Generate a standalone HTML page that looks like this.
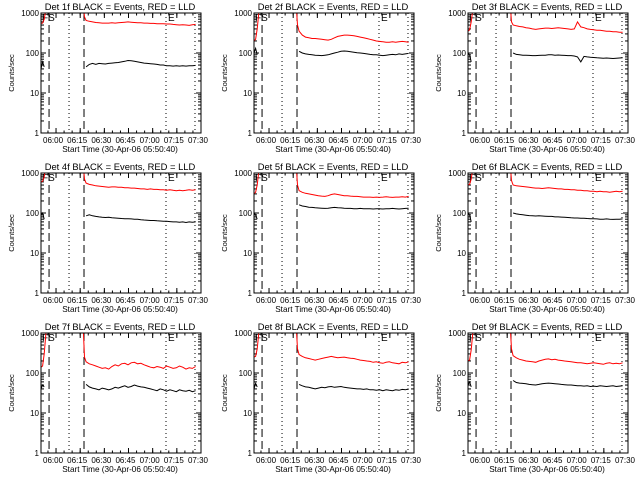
<!DOCTYPE html>
<html><head><meta charset="utf-8"><style>
html,body{margin:0;padding:0;background:#fff;width:640px;height:480px;overflow:hidden}
svg{display:block}
text{font-family:"Liberation Sans",sans-serif;fill:#000}
</style></head><body>
<svg id="chart" width="640" height="480" viewBox="0 0 640 480"></svg>
<script>
// time axis: minutes after 05:50:40
const tickLabels = ["06:00","06:15","06:30","06:45","07:00","07:15","07:30"];
const tickMinutes = [9.33,24.33,39.33,54.33,69.33,84.33,99.33];
const yTickValues = [1,10,100,1000];
const yTickLabels = ["1","10","100","1000"];
const markerMinutes = [5,17.4,26.7,77.6,95.6];
const markerStyles = ["dash","dot","dash","dot","dot"];
const tPre = [0,1,2,3,4,5];
const tPreB = [0,1,2];
const tPost = [26,27,28,30,32,34,36,38,40,42,44,46,48,50,52,54,56,58,60,62,64,66,68,70,72,74,76,78,80,82,84,86,88,90,92,94,96];
const detNames = ["1f","2f","3f","4f","5f","6f","7f","8f","9f"];
const redPre = [
 [550,560,700,1200,2000,2500],[200,220,400,1000,2500,3000],[350,380,600,1200,2500,3000],
 [600,620,800,1500,2500,3000],[300,330,500,1100,2500,3000],[500,520,700,1300,2500,3000],
 [140,150,300,900,2500,3000],[250,260,400,1000,2500,3000],[200,210,380,1000,2500,3000]];
const blackPre = [[40,60,45],[100,130,90],[100,90,60],[90,100,70],[100,90,70],[100,90,60],[40,50,45],[40,55,45],[50,60,45]];
const redPost = [
 [2000,800,650,620,600,580,570,560,560,560,570,560,570,580,590,600,590,580,570,570,560,560,550,550,540,540,540,530,530,520,510,500,510,500,490,510,520],
 [2000,500,350,280,250,240,230,230,225,220,215,210,220,240,260,270,280,280,275,270,260,250,240,230,220,210,200,195,190,185,185,190,185,190,195,190,185],
 [2000,600,500,480,460,450,430,420,400,390,400,410,420,420,410,420,430,420,410,400,390,400,600,450,430,400,390,380,370,370,360,350,350,340,340,330,330],
 [2000,700,560,520,500,480,470,460,450,440,450,450,440,440,430,430,420,420,410,400,400,390,400,390,390,380,380,370,380,370,360,370,360,370,380,370,380],
 [2000,500,360,330,310,300,290,280,270,265,260,270,290,300,290,280,270,270,265,260,260,255,250,250,250,245,250,245,250,255,250,245,250,250,255,250,260],
 [2000,650,500,480,470,460,450,440,430,420,420,410,420,430,420,410,400,400,390,390,380,380,370,370,360,360,350,350,340,350,340,340,330,340,350,340,350],
 [2000,250,190,170,160,150,140,130,135,125,145,160,150,170,175,160,180,185,170,175,160,150,140,135,145,140,130,150,140,130,135,150,140,125,135,130,145],
 [2000,400,290,260,240,230,220,210,220,230,240,250,260,250,240,245,250,240,235,230,220,210,205,200,195,185,190,180,175,185,190,180,175,170,185,180,190],
 [2000,400,270,240,220,210,200,195,190,185,200,210,220,225,215,220,210,205,200,195,190,185,180,180,175,170,175,180,175,170,165,175,180,170,175,170,180]];
const blackPost = [
 [null,null,45,52,55,52,55,54,53,55,56,57,58,60,62,65,64,62,60,58,56,55,54,53,52,50,50,48,48,47,48,47,48,47,48,48,49],
 [null,null,110,100,95,92,90,88,87,86,88,90,95,100,105,110,112,110,108,105,102,100,98,95,92,90,90,88,86,88,90,92,90,95,92,95,98],
 [null,null,100,92,90,88,88,87,86,86,87,88,88,90,90,88,89,88,87,86,86,84,80,60,82,80,78,77,76,75,74,75,74,73,74,75,76],
 [null,null,85,90,85,82,80,78,77,78,76,75,74,73,72,72,71,70,70,68,67,66,65,65,64,63,62,62,61,60,60,59,60,58,60,59,60],
 [null,null,160,150,145,140,138,135,133,132,130,132,135,138,136,134,132,130,130,128,128,130,128,127,128,126,128,127,126,128,127,130,128,126,128,130,132],
 [null,null,100,95,92,90,88,86,85,84,85,84,83,82,82,80,80,79,78,77,76,75,75,74,74,73,72,72,71,70,70,71,70,69,70,70,71],
 [null,null,52,45,42,40,38,42,40,38,40,44,42,45,48,44,46,50,47,45,44,42,40,38,36,40,38,35,38,36,34,38,36,35,37,34,36],
 [null,null,52,48,45,44,42,40,42,44,43,45,46,44,45,46,44,43,42,41,40,40,39,40,38,38,37,38,36,38,37,36,38,37,39,38,40],
 [null,null,65,58,56,55,54,52,51,50,52,54,55,56,55,54,53,52,51,50,50,49,48,48,47,48,46,47,46,48,47,46,47,48,46,47,48]];

const svg = document.getElementById('chart');
const NS = "http://www.w3.org/2000/svg";
function mk(tag, attrs, parent){ const e=document.createElementNS(NS,tag); for(const k in attrs) e.setAttribute(k,attrs[k]); parent.appendChild(e); return e; }

const PX0=41, PX1=201, PY0=13, PY1=133, TMAX=99.33;
function xs(t){ return PX0 + t/TMAX*(PX1-PX0); }
function ys(v){ return PY1 - (Math.log10(v)-0)/3*(PY1-PY0); }
function path(ts, vs){ let d="", pen=false; for(let i=0;i<ts.length;i++){ const v=vs[i]; if(v==null){pen=false;continue;} d+=(pen?"L":"M")+xs(ts[i]).toFixed(1)+","+ys(v).toFixed(1); pen=true;} return d; }

for(let p=0;p<9;p++){
  const ox = Math.round((p%3)*213.33), oy = Math.floor(p/3)*160;
  const g = mk('g',{transform:`translate(${ox},${oy})`},svg);
  
  
  const cp = mk('clipPath',{id:'clip'+p},g);
  mk('rect',{x:PX0,y:PY0,width:PX1-PX0,height:PY1-PY0},cp);
  const title = mk('text',{x:120,y:10,'font-size':'9.4','text-anchor':'middle'},g);
  title.textContent = `Det ${detNames[p]} BLACK = Events, RED = LLD`;
  
  
  const yl = mk('text',{x:0,y:0,'font-size':'7.5','text-anchor':'middle',transform:'translate(14,73) rotate(-90)'},g);
  yl.textContent='Counts/sec';
  
  
  const xl = mk('text',{x:120,y:152,'font-size':'8.2','text-anchor':'middle'},g);
  xl.textContent='Start Time (30-Apr-06 05:50:40)';
  
  
  for(let i=0;i<yTickValues.length;i++){
    const y=ys(yTickValues[i]);
    mk('line',{x1:PX0,x2:PX0+5,y1:y,y2:y,stroke:'#000'},g);
    mk('line',{x1:PX1,x2:PX1-5,y1:y,y2:y,stroke:'#000'},g);
    const t=mk('text',{x:39,y:y+3,'font-size':'8','text-anchor':'end'},g);
    t.textContent=yTickLabels[i];
    
    
    if(i<yTickValues.length-1){
      for(let m=2;m<10;m++){ const ym=ys(yTickValues[i]*m);
        mk('line',{x1:PX0,x2:PX0+3,y1:ym,y2:ym,stroke:'#000'},g);
        mk('line',{x1:PX1,x2:PX1-3,y1:ym,y2:ym,stroke:'#000'},g);}
    }
  }
  for(let i=0;i<tickMinutes.length;i++){
    const x=xs(tickMinutes[i]);
    mk('line',{x1:x,x2:x,y1:PY1,y2:PY1-5,stroke:'#000'},g);
    mk('line',{x1:x,x2:x,y1:PY0,y2:PY0+5,stroke:'#000'},g);
    const t=mk('text',{x:x-3,y:143,'font-size':'8','text-anchor':'middle'},g);
    t.textContent=tickLabels[i];
    
    
  }
  for(let m=0;m<TMAX;m+=5){ const x=xs(m+4.33); if(x<PX1){
    mk('line',{x1:x,x2:x,y1:PY1,y2:PY1-2.5,stroke:'#000'},g);
    mk('line',{x1:x,x2:x,y1:PY0,y2:PY0+2.5,stroke:'#000'},g);}}
  for(let i=0;i<markerMinutes.length;i++){
    const x=xs(markerMinutes[i]);
    const l=mk('line',{x1:x,x2:x,y1:PY0,y2:PY1,stroke:'#000','stroke-width':1,'stroke-dasharray':markerStyles[i]=='dash'?'8,4':'1,3'},g);
    
    
  }
  const fs=mk('text',{x:42,y:21,'font-size':'10'},g); fs.textContent='FS';
  
  
  const e=mk('text',{x:168,y:21,'font-size':'10'},g); e.textContent='E';
  
  
  const cg = mk('g',{'clip-path':`url(#clip${p})`},g);
  const r1=mk('path',{d:path(tPre,redPre[p]),fill:'none',stroke:'#ff0000','stroke-width':1},cg);
  
  
  const r2=mk('path',{d:path(tPost,redPost[p]),fill:'none',stroke:'#ff0000','stroke-width':1},cg);
  
  
  const b1=mk('path',{d:path(tPreB,blackPre[p]),fill:'none',stroke:'#000','stroke-width':1},cg);
  
  
  const b2=mk('path',{d:path(tPost,blackPost[p]),fill:'none',stroke:'#000','stroke-width':1},cg);
  
  
  const box=mk('rect',{x:PX0,y:PY0,width:PX1-PX0,height:PY1-PY0,fill:'none',stroke:'#000','stroke-width':1},g);
  
  
}
</script>
</body></html>
